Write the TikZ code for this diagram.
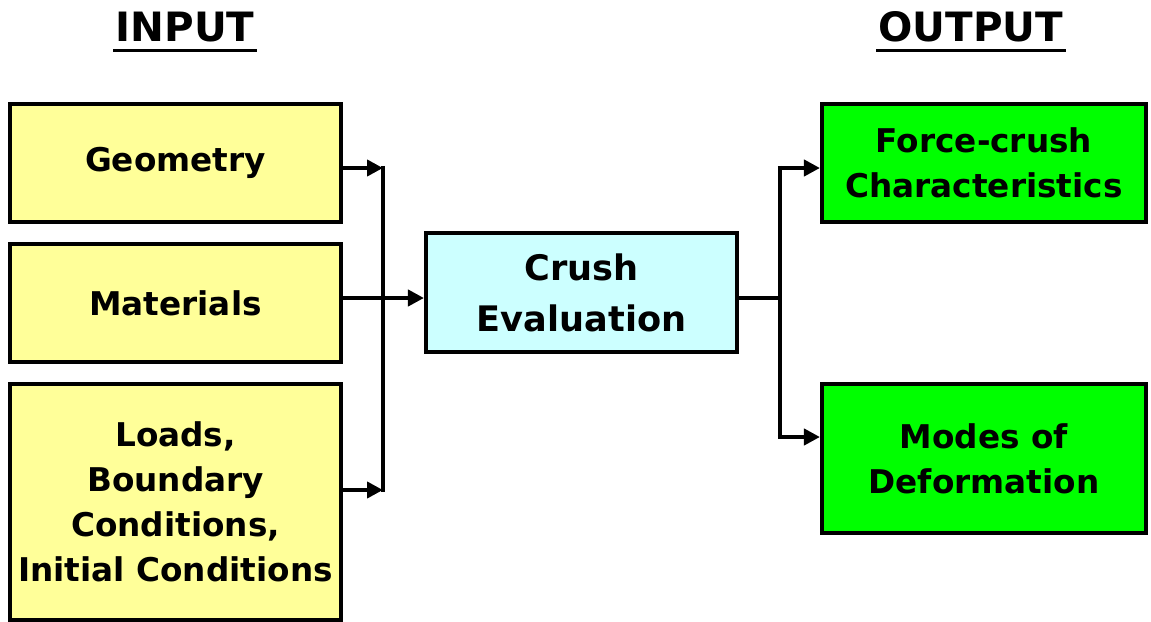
\documentclass[tikz,border=0pt]{standalone}
\usepackage{fontspec}
\setmainfont{DejaVu Sans}
\usepackage{xcolor}
\usepackage{tikz}
\usetikzlibrary{positioning,arrows.meta,calc}
\definecolor{pale}{HTML}{FFFF99}
\definecolor{ice}{HTML}{CCFFFF}
\definecolor{lime}{HTML}{00FF00}
\tikzset{
  inbox/.style ={draw=black, fill=pale, line width=2.3pt, minimum width=6.62cm, minimum height=2.36cm, align=center, font=\fontsize{18.6}{25.6}\selectfont\bfseries},
  evbox/.style ={draw=black, fill=ice, line width=2.3pt, minimum width=6.22cm, minimum height=2.38cm, align=center, font=\fontsize{20}{29}\selectfont\bfseries},
  outbox/.style={draw=black, fill=lime, line width=2.3pt, minimum width=6.48cm, minimum height=2.36cm, align=center, font=\fontsize{18.6}{25.6}\selectfont\bfseries},
  ttl/.style   ={inner sep=0pt, font=\fontsize{23}{28}\selectfont\bfseries},
  uline/.style ={line width=2pt},
  wire/.style  ={line width=2.3pt},
  edge/.style  ={-{Triangle[length=3.2mm, width=3.2mm]}, line width=2.3pt},
}
\begin{document}
\begin{tikzpicture}
  \useasboundingbox (0,0) rectangle (23.02,-12.44);
  \node[ttl, anchor=base] (tin)  at (3.70,-0.84)  {INPUT};
  \node[ttl, anchor=base] (tout) at (19.42,-0.84) {OUTPUT};
  \draw[uline] ([yshift=-0.17cm, xshift=-0.04cm]tin.base west) -- ([yshift=-0.17cm, xshift=0.04cm]tin.base east);
  \draw[uline] ([yshift=-0.17cm, xshift=-0.04cm]tout.base west) -- ([yshift=-0.17cm, xshift=0.04cm]tout.base east);

  \node[inbox] (geo) at (3.51,-3.26)  {Geometry};
  \node[inbox] (mat) at (3.51,-6.06)  {Materials};
  \node[inbox, minimum height=4.72cm] (lds) at (3.51,-10.04) {Loads,\\Boundary\\Conditions,\\Initial Conditions};
  \node[evbox] (crush) at (11.63,-5.85) {Crush\\Evaluation};
  \node[outbox] (frc) at (19.68,-3.26) {Force-crush\\Characteristics};
  \node[outbox, minimum height=2.98cm] (mod) at (19.68,-9.17) {Modes of\\Deformation};

  \coordinate (ltop) at (7.66,-3.36);
  \coordinate (lmid) at (7.66,-5.96);
  \coordinate (lbot) at (7.66,-9.80);
  \coordinate (rtop) at (15.60,-3.36);
  \coordinate (rmid) at (15.60,-5.96);
  \coordinate (rbot) at (15.60,-8.74);

  \draw[edge] (geo.east |- ltop) -- (ltop);
  \draw[edge] (lds.east |- lbot) -- (lbot);
  \draw[wire] ([yshift=1.15pt]ltop) -- ([yshift=-1.15pt]lbot);
  \draw[edge] (mat.east |- lmid) -- (crush.west |- lmid);

  \draw[wire] (crush.east |- rmid) -- (rmid);
  \draw[wire] ([yshift=1.15pt]rtop) -- ([yshift=-1.15pt]rbot);
  \draw[edge] ([xshift=-1.15pt]rtop) -- (frc.west |- rtop);
  \draw[edge] ([xshift=-1.15pt]rbot) -- (mod.west |- rbot);
\end{tikzpicture}
\end{document}
